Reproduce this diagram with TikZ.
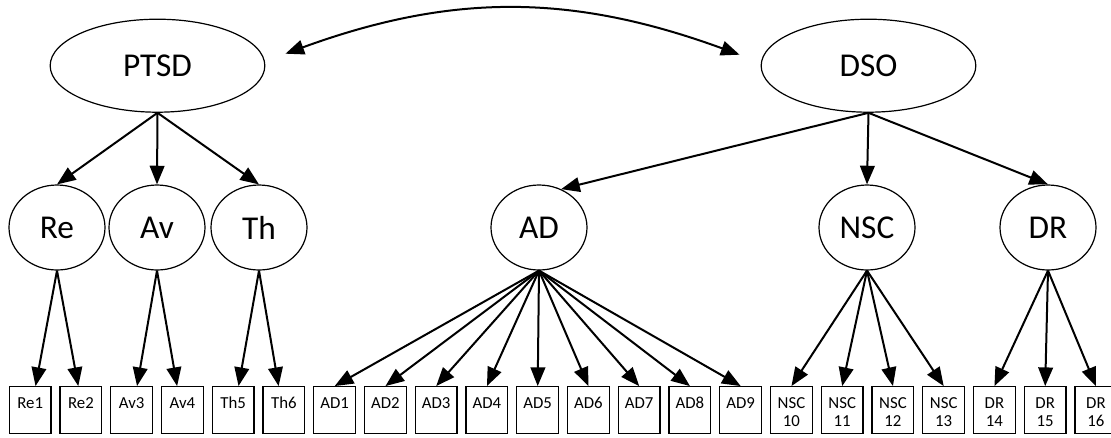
\documentclass[tikz,border=0pt]{standalone}
\usepackage{fontspec}
\setmainfont{Carlito}
\usetikzlibrary{calc}
\usetikzlibrary{arrows.meta}
\usetikzlibrary{shapes.geometric}

\tikzset{
 latent/.style={ellipse, draw, line width=.9pt, inner sep=0pt, minimum width=72pt, minimum height=63.75pt, font=\fontsize{25}{29}\selectfont},
 toplatent/.style={latent, minimum width=161pt, minimum height=69.75pt},
 indbox/.style={rectangle, draw, line width=.9pt, inner sep=0pt, text width=31.3pt, align=center, minimum height=35pt, text height=16.6pt, text depth=18.4pt, font=\fontsize{12.6}{12.9}\selectfont},
 load/.style={line width=1.5pt, ->, >={Triangle[length=14pt,width=11pt]}},
}

\begin{document}
\begin{tikzpicture}[x=.75pt,y=-.75pt]
\useasboundingbox (0,0) rectangle (1111,437);
\node[toplatent] (PTSD) at (157.5,65.7) {PTSD};
\node[toplatent] (DSO) at (868.5,65.7) {DSO};
\node[latent] (Re) at (57,227.5) {Re};
\node[latent] (Av) at (157,227.5) {Av};
\node[latent] (Th) at (259,227.5) {Th};
\node[latent] (AD) at (539,227.5) {AD};
\node[latent] (NSC) at (867,227.5) {NSC};
\node[latent] (DR) at (1048,227.5) {DR};
\foreach \nm/\txt [count=\i from 0] in {re1/Re1, re2/Re2, av3/Av3, av4/Av4, th5/Th5, th6/Th6,
  ad1/AD1, ad2/AD2, ad3/AD3, ad4/AD4, ad5/AD5, ad6/AD6, ad7/AD7, ad8/AD8, ad9/AD9,
  nsc10/{NSC\\10}, nsc11/{NSC\\11}, nsc12/{NSC\\12}, nsc13/{NSC\\13},
  dr14/{DR\\14}, dr15/{DR\\15}, dr16/{DR\\16}} {
 \node[indbox] (\nm) at ({30.2+50.75*\i},410) {\txt};
}
\draw[load] (PTSD.south) -- (Re.north);
\draw[load] (PTSD.south) -- (Av.north);
\draw[load] (PTSD.south) -- (Th.north);
\draw[load] (DSO.south) -- (AD.60);
\draw[load] (DSO.south) -- (NSC.north);
\draw[load] (DSO.south) -- (DR.north);
\foreach \p/\c/\s in {Re/re1/4, Re/re2/-2, Av/av3/4, Av/av4/-4, Th/th5/4, Th/th6/-4} {
 \draw[load] (\p.south) -- ([xshift=\s pt]\c.north);
}
\foreach \c in {1,...,9} {
 \draw[load] (AD.south) -- (ad\c.north);
}
\foreach \c in {10,...,13} {
 \draw[load] (NSC.south) -- (nsc\c.north);
}
\foreach \c in {14,15,16} {
 \draw[load] (DR.south) -- (dr\c.north);
}
\coordinate (covL) at ($(PTSD.east)+(20,-12)$);
\coordinate (covR) at ($(DSO.west)+(-21,-11)$);
\draw[load, <->] (covL) .. controls +(167,-61) and +(-167,-61) .. (covR);
\end{tikzpicture}
\end{document}
